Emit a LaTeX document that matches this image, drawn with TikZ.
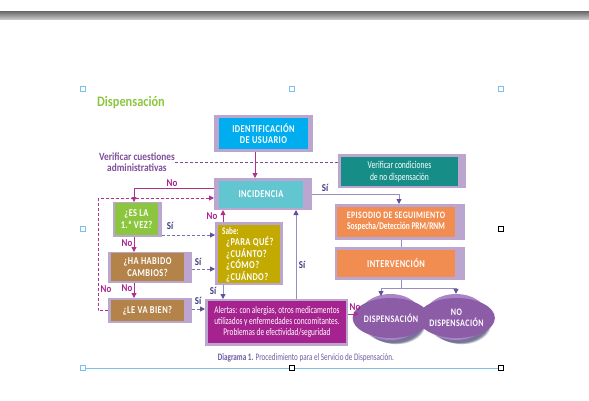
\documentclass[tikz,border=0pt]{standalone}
\usepackage{fontspec}
\setmainfont{Carlito}[FakeStretch=0.85]
\newfontfamily\cf{Carlito}[FakeStretch=0.72]
\newfontfamily\capsf{Carlito}[FakeStretch=0.8,LetterSpace=4]
\usetikzlibrary{arrows.meta,calc,shapes.geometric}
\definecolor{lav}{HTML}{BBA6CF}
\definecolor{cyA}{HTML}{00AEEF}
\definecolor{cyB}{HTML}{62C6D0}
\definecolor{teal}{HTML}{168E87}
\definecolor{orng}{HTML}{F28D52}
\definecolor{grn}{HTML}{8CC63F}
\definecolor{brwn}{HTML}{B4834A}
\definecolor{olv}{HTML}{C3AA00}
\definecolor{mgn}{HTML}{A6228E}
\definecolor{mgl}{HTML}{B0308F}
\definecolor{elo}{HTML}{A984C6}
\definecolor{eli}{HTML}{8C5CA7}
\definecolor{navy}{HTML}{3D3B80}
\definecolor{lvl}{HTML}{9B8BC0}
\definecolor{lvd}{HTML}{7A70B0}
\definecolor{lvh}{HTML}{5E519A}
\definecolor{ppl}{HTML}{7D4E9B}
\definecolor{capc}{HTML}{6E5AA0}
\definecolor{ttl}{HTML}{8CC63F}
\definecolor{hbl}{HTML}{7BC0EE}
\definecolor{shd}{HTML}{2B2A5E}
\begin{document}
\begin{tikzpicture}[x=1pt,y=-1pt,
  frm/.style={fill=lav,draw=none,inner sep=0,outer sep=0},
  inr/.style={text=white,align=center,inner sep=0,outer sep=0,font=\capsf\bfseries\fontsize{10.5}{11.5}\selectfont},
  mline/.style={draw=mgl,line width=0.9pt,-{Triangle[length=5pt,width=5pt]}},
  mdash/.style={mline,dash pattern=on 3pt off 2pt},
  lline/.style={draw=lvl,line width=0.9pt,-{Triangle[length=5pt,width=5pt,color=lvh]}},
  ldash/.style={draw=lvd,line width=0.9pt,-{Triangle[length=5pt,width=5pt,color=lvh]},dash pattern=on 3pt off 2pt},
  nolbl/.style={text=mgn,font=\bfseries\fontsize{10.5}{11}\selectfont,inner sep=0},
  silbl/.style={text=navy,font=\bfseries\fontsize{10.5}{11}\selectfont,inner sep=0},
  hnd/.style={draw=#1,fill=white,line width=0.6pt,minimum size=5pt,inner sep=0}
]
\useasboundingbox (0,0) rectangle (589,400);
% top bar
\shade[top color=black!60,bottom color=gray!45] (0,11) rectangle (589,19);
% selection frame
\draw[hbl,line width=0.6pt] (83,368) -- (501,368);
\node[hnd=hbl] (h1) at (83,89) {};
\node[hnd=hbl] (h2) at (292,89) {};
\node[hnd=hbl] (h3) at (501,89) {};
\node[hnd=hbl] (h4) at (83,229) {};
\node[hnd=black] (h5) at (501,229) {};
\node[hnd=hbl] (h6) at (83,368) {};
\node[hnd=black] (h7) at (292,368) {};
\node[hnd=black] (h8) at (501,368) {};
% title
\node[anchor=west,text=ttl,font=\bfseries\fontsize{14.5}{16}\selectfont,inner sep=0] (title) at (97,103) {Dispensación};
% boxes
\node[frm,minimum width=99,minimum height=37] (idf) at (263.5,133.5) {};
\node[inr,fill=cyA,minimum width=89,minimum height=31] (id) at (263.5,133.5) {IDENTIFICACIÓN\\DE USUARIO};
\node[frm,minimum width=98,minimum height=32] (incf) at (263,194) {};
\node[inr,fill=cyB,minimum width=84,minimum height=27] (inc) at (261,194.5) {INCIDENCIA};
\node[frm,minimum width=128,minimum height=34] (verf) at (402,171) {};
\node[inr,fill=teal,minimum width=117,minimum height=29,font=\cf\fontsize{10.5}{11.5}\selectfont] (ver) at (399.5,171.5) {Verificar condiciones\\de no dispensación};
\node[frm,minimum width=130,minimum height=36] (epif) at (400,222) {};
\node[inr,fill=orng,minimum width=118,minimum height=30,font=\capsf\bfseries\fontsize{9.8}{11}\selectfont] (epi) at (396,222) {EPISODIO DE SEGUIMIENTO\\{\cf\bfseries\fontsize{10.3}{11}\selectfont Sospecha/Detección PRM/RNM}};
\node[frm,minimum width=130,minimum height=33] (intf) at (400,263.5) {};
\node[inr,fill=orng,minimum width=118,minimum height=27] (int) at (396,263.5) {INTERVENCIÓN};
\node[frm,minimum width=49,minimum height=35] (esf) at (137.5,219.5) {};
\node[inr,fill=grn,minimum width=43,minimum height=32] (es) at (136.5,219) {¿ES LA\\1.ª VEZ?};
\node[frm,minimum width=84,minimum height=31] (haf) at (150,267.5) {};
\node[inr,fill=brwn,minimum width=73,minimum height=28] (ha) at (147.5,267) {¿HA HABIDO\\CAMBIOS?};
\node[frm,minimum width=84,minimum height=25] (lef) at (150,310.5) {};
\node[inr,fill=brwn,minimum width=73,minimum height=21] (le) at (147.5,310.5) {¿LE VA BIEN?};
\node[frm,minimum width=68,minimum height=63] (sabf) at (249,253.5) {};
\node[inr,fill=olv,minimum width=62,minimum height=58] (sab) at (249,254) {};
\node[anchor=west,text=white,inner sep=0,font=\cf\bfseries\fontsize{10}{10}\selectfont] (sabt) at (222,231) {Sabe:};
\node[anchor=north west,text=white,inner sep=0,align=left,font=\capsf\bfseries\fontsize{10.5}{10.5}\selectfont] (sabq) at (226,236.5) {¿PARA QUÉ?\\¿CUÁNTO?\\¿CÓMO?\\¿CUÁNDO?};
\node[frm,minimum width=143,minimum height=47] (alf) at (276.5,322.5) {};
\node[inr,fill=mgn,minimum width=138,minimum height=42,font=\cf\fontsize{10.2}{10.8}\selectfont] (al) at (277,322) {Alertas: con alergias, otros medicamentos\\utilizados y enfermedades concomitantes.\\Problemas de efectividad/seguridad};
% ellipses
\foreach \cx/\nm in {390.5/dsh,456/ndsh}{
  \foreach \k in {1,...,6}{
    \fill[shd,opacity=0.16] (\cx+1.5+\k*0.8,317+2+\k*0.8) ellipse ({32.5-\k*0.6} and {23.5-\k*0.5});
  }
}
\node[ellipse,fill=elo,minimum width=63,minimum height=46,inner sep=0] (dsp) at (390.5,317) {};
\node[ellipse,fill=eli,minimum width=56,minimum height=40,inner sep=0,text=white,font=\capsf\bfseries\fontsize{10}{11}\selectfont,align=center] (dspi) at (391,318) {DISPENSACIÓN};
\node[ellipse,fill=elo,minimum width=64,minimum height=46,inner sep=0] (ndsp) at (456,317) {};
\node[ellipse,fill=eli,minimum width=57,minimum height=40,inner sep=0,text=white,font=\capsf\bfseries\fontsize{10}{11}\selectfont,align=center] (ndspi) at (456.5,318) {NO\\DISPENSACIÓN};
% side text
\node[anchor=east,text=ppl,align=center,inner sep=0,font=\bfseries\fontsize{11}{10.5}\selectfont] (vc) at (175,162) {Verificar cuestiones\\administrativas};
\draw[ppl,line width=0.8pt,dash pattern=on 3pt off 2pt] (vc.east) -- (verf.west |- vc.east);
% caption
\node[text=capc,inner sep=0,font=\cf\fontsize{9.9}{10}\selectfont] (cap) at (306,358) {\textbf{Diagrama 1.} Procedimiento para el Servicio de Dispensación.};
% connectors
\coordinate (colx) at (134,0);
\draw[mline] (idf.south -| 255,0) -- (incf.north -| 255,0);
\draw[mline] (incf.west |- 0,188) -| (esf.north -| colx);
\draw[mline] (esf.south -| colx) -- (haf.north -| colx);
\draw[mline] (haf.south -| colx) -- (lef.north -| colx);
\draw[mdash] (lef.west) -- ++(-10,0) |- (incf.west |- 0,198);
\draw[mline] (sabf.north -| 223,0) -- (incf.south -| 223,0);
\draw[mline] (alf.east |- 0,314) -- (dsp.west |- 0,314);
\draw[lline] (incf.east) -| (epif.north -| 399,0);
\draw[draw=lvl,line width=0.9pt] (epif.south -| 401,0) -- (intf.north -| 401,0);
\draw[draw=lvl,line width=0.9pt] (intf.south -| 401,0) -- (401,288) coordinate (sp);
\draw[lline] (sp) -| (381,296);
\draw[lline] (sp) -| (ndsp.north);
\draw[lline] (alf.north -| 296,0) -- (incf.south -| 296,0);
\draw[lline] (sabf.south -| 223,0) -- (alf.north -| 223,0);
\draw[ldash] (esf.east |- 0,235) -- (sabf.west |- 0,235);
\draw[ldash] (haf.east |- 0,269) -- (sabf.west |- 0,269);
\draw[ldash] (lef.east |- 0,309) -- (alf.west |- 0,309);
% labels
\node[nolbl] (n1) at (172,183) {No};
\node[silbl] (s1) at (325,188) {Sí};
\node[nolbl] (n2) at (106,289) {No};
\node[nolbl] (n3) at (127,243) {No};
\node[nolbl] (n4) at (127,288) {No};
\node[silbl] (s2) at (170,226) {Sí};
\node[silbl] (s3) at (198,262) {Sí};
\node[silbl] (s4) at (198,301) {Sí};
\node[silbl] (s5) at (213,291) {Sí};
\node[nolbl] (n5) at (212,216) {No};
\node[silbl] (s6) at (302,265) {Sí};
\node[nolbl] (n6) at (355,307) {No};
\end{tikzpicture}
\end{document}
